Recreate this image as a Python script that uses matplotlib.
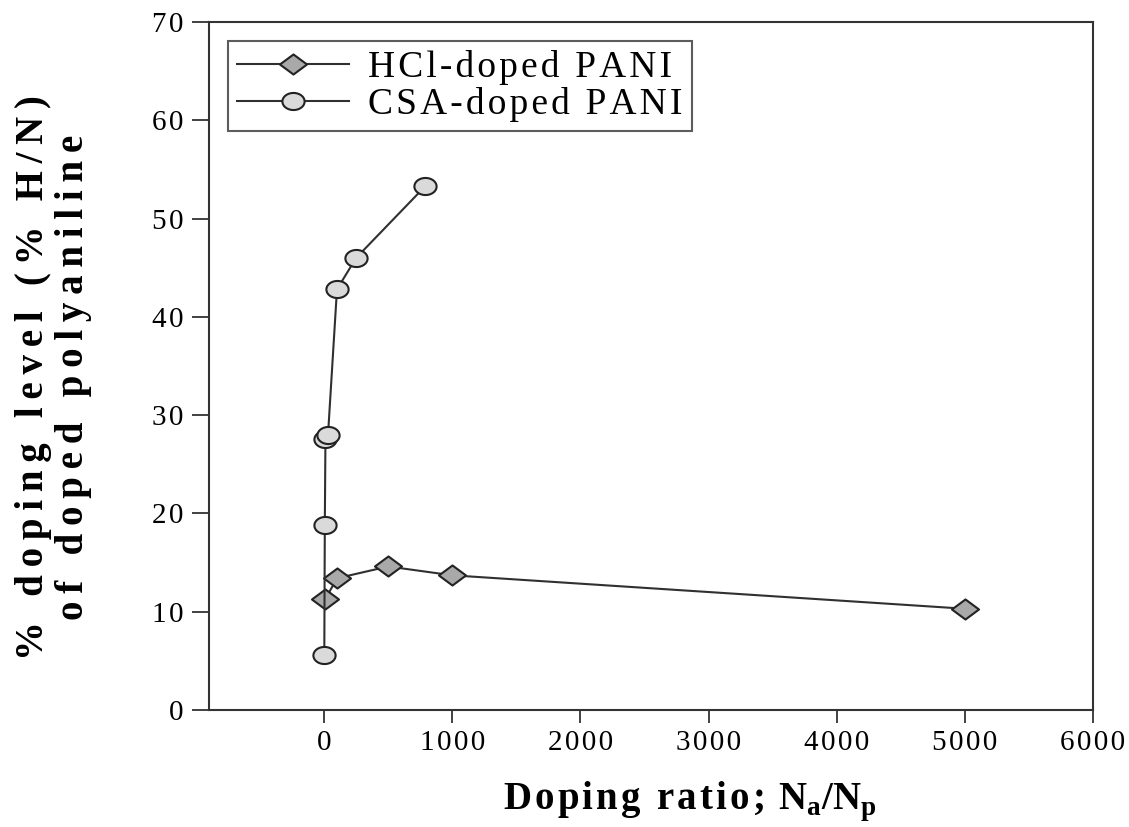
import numpy as np
import matplotlib
matplotlib.use("Agg")
import matplotlib.pyplot as plt
from matplotlib.path import Path

# data
hcl_x = [10, 100, 500, 1000, 5000]
hcl_y = [11.3, 13.4, 14.6, 13.7, 10.3]
csa_x = [1, 5, 10, 30, 100, 250, 790]
csa_y = [5.6, 18.8, 27.6, 28.0, 42.8, 46.0, 53.3]

xticks = [0, 1000, 2000, 3000, 4000, 5000, 6000]
yticks = [0, 10, 20, 30, 40, 50, 60, 70]

def spaced(s, sep="\u200a"):
    return sep.join(s)

plt.rcParams['font.family'] = ['Liberation Serif', 'DejaVu Serif']
plt.rcParams['mathtext.fontset'] = 'custom'
plt.rcParams['mathtext.rm'] = 'Liberation Serif'
plt.rcParams['mathtext.bf'] = 'Liberation Serif:bold'

# horizontally stretched markers
t = np.linspace(0, 2 * np.pi, 60)
ellipse = Path(np.column_stack([1.3 * np.cos(t), np.sin(t)]), closed=True)
diamond = Path([(-1.35, 0), (0, 1), (1.35, 0), (0, -1), (-1.35, 0)], closed=True)

fig = plt.figure(figsize=(11.29, 8.27), dpi=100)
ax = fig.add_axes([0.185, 0.1415, 0.783, 0.832])

line_c = '#303030'
ax.plot(hcl_x, hcl_y, color=line_c, lw=1.5, marker=diamond, ms=19.5,
        mfc='#a9a9a9', mec='#222222', mew=1.5, label=spaced('HCl-doped PANI'))
ax.plot(csa_x, csa_y, color=line_c, lw=1.5, marker=ellipse, ms=16,
        mfc='#dadada', mec='#222222', mew=1.5, label=spaced('CSA-doped PANI'))

ax.set_xlim(-900, 6000)
ax.set_ylim(0, 70)
ax.set_xticks(xticks)
ax.set_xticklabels([spaced(str(v)) for v in xticks])
ax.set_yticks(yticks)
ax.set_yticklabels([spaced(str(v)) for v in yticks])
ax.tick_params(direction='out', width=1.3, labelsize=21, color='#333333')
ax.tick_params(axis='x', length=9.5, pad=5)
ax.tick_params(axis='y', length=12, pad=6)
for sp in ax.spines.values():
    sp.set_linewidth(1.5)
    sp.set_color('#333333')

ax.set_xlabel(spaced('Doping ratio; ') + r'N$_{\mathbf{a}}$/N$_{\mathbf{p}}$',
              fontsize=28, fontweight='bold')
ax.xaxis.set_label_coords(0.544, -0.1)
ax.set_ylabel(spaced('% doping level (% H/N)', '\u2009') + '\n'
              + spaced('of doped polyaniline', '\u2009'),
              fontsize=28, fontweight='bold', linespacing=1.1)
ax.yaxis.set_label_coords(-0.132, 0.483)

leg = ax.legend(loc='upper left', fontsize=27, frameon=True, fancybox=False,
                edgecolor='#333333', handlelength=3.0, handletextpad=0.5,
                borderpad=0.25, labelspacing=0.05, borderaxespad=0.5)
leg.get_frame().set_linewidth(1.5)

fig.savefig('out.png', dpi=100)
